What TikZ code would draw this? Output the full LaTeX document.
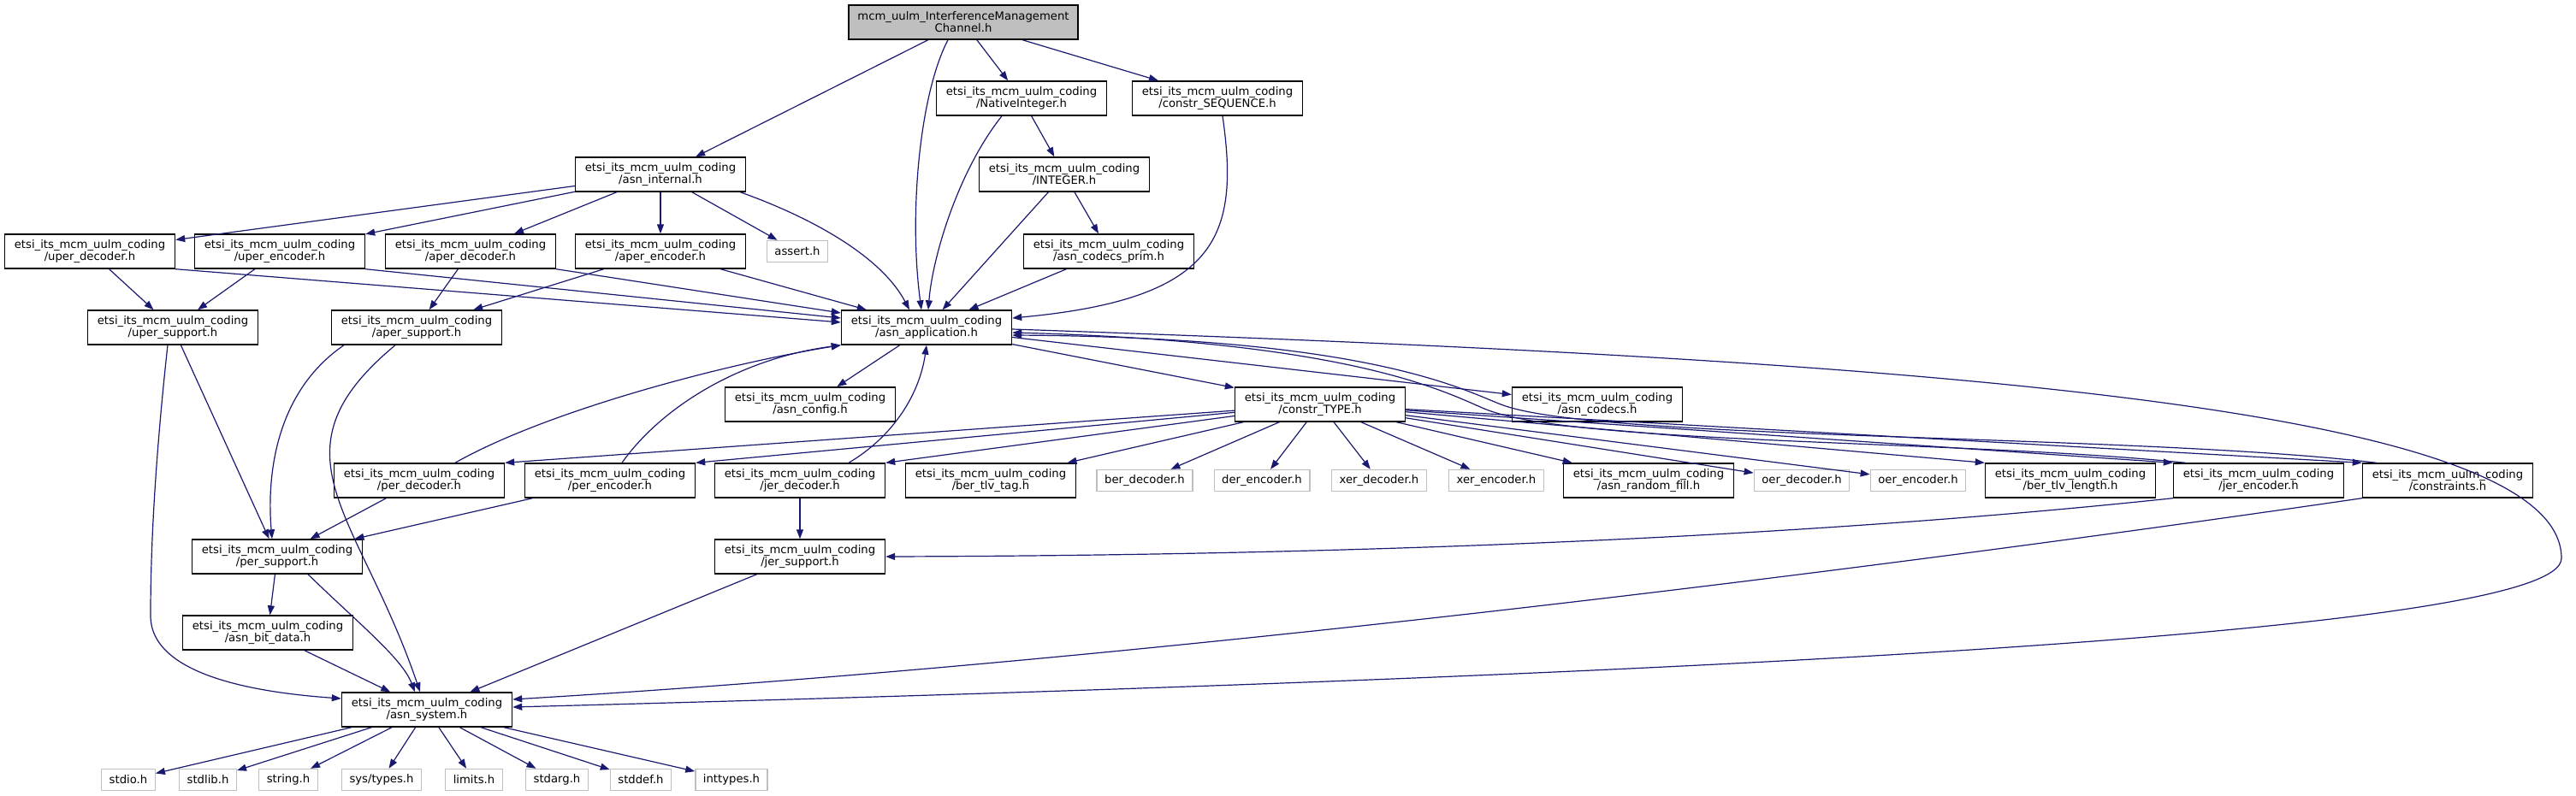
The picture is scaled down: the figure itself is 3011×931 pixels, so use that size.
\documentclass[tikz,border=0pt]{standalone}
\usepackage{fontspec}
\setmainfont{DejaVu Sans}
\usepackage{tikz}
\usepackage{xcolor}
\usetikzlibrary{arrows.meta, positioning}

\definecolor{edgeblue}{RGB}{25,25,112}
\definecolor{extgray}{RGB}{191,191,191}
\newcommand{\mcmdir}{etsi\_its\_mcm\_uulm\_coding}

\begin{document}
\begin{tikzpicture}[x=0.5pt, y=-0.5pt,
  every node/.style={font=\fontsize{6.6pt}{7pt}\selectfont, align=center, inner sep=0pt},
  hdr/.style={draw=black, line width=0.7pt, fill=white, minimum width=99.5pt, minimum height=20pt},
  mainhdr/.style={hdr, fill=extgray, minimum width=134pt},
  syshdr/.style={draw=extgray, line width=0.7pt, fill=white, minimum height=12.5pt, inner xsep=4.5pt},
  dep/.style={draw=edgeblue, line width=0.6pt, -{Triangle[length=5.5pt,width=4pt]}}]
\useasboundingbox (0,0) rectangle (3011,931);

% Top file
\node[mainhdr] (main) at (1126,26) {mcm\_uulm\_InterferenceManagement\\Channel.h};

% Second and third rows
\node[hdr] (nativeint) at (1194,115) {\mcmdir\\/NativeInteger.h};
\node[hdr] (constrseq) at (1423,115) {\mcmdir\\/constr\_SEQUENCE.h};
\node[hdr] (asnint) at (772,204) {\mcmdir\\/asn\_internal.h};
\node[hdr] (integer) at (1244,204) {\mcmdir\\/INTEGER.h};

% Codec headers
\node[hdr] (uperdec) at (105,294) {\mcmdir\\/uper\_decoder.h};
\node[hdr] (uperenc) at (327,294) {\mcmdir\\/uper\_encoder.h};
\node[hdr] (aperdec) at (550,294) {\mcmdir\\/aper\_decoder.h};
\node[hdr] (aperenc) at (772,294) {\mcmdir\\/aper\_encoder.h};
\node[syshdr] (assert) at (932,294) {assert.h};
\node[hdr] (codecsprim) at (1296,294) {\mcmdir\\/asn\_codecs\_prim.h};

\node[hdr] (upersup) at (202,383) {\mcmdir\\/uper\_support.h};
\node[hdr] (apersup) at (487,383) {\mcmdir\\/aper\_support.h};
\node[hdr] (asnapp) at (1083,383) {\mcmdir\\/asn\_application.h};

\node[hdr] (asnconfig) at (947,473) {\mcmdir\\/asn\_config.h};
\node[hdr] (constrtype) at (1543,473) {\mcmdir\\/constr\_TYPE.h};
\node[hdr] (asncodecs) at (1867,473) {\mcmdir\\/asn\_codecs.h};

% Row under constr_TYPE.h
\node[hdr] (perdec) at (490,562) {\mcmdir\\/per\_decoder.h};
\node[hdr] (perenc) at (713,562) {\mcmdir\\/per\_encoder.h};
\node[hdr] (jerdec) at (935,562) {\mcmdir\\/jer\_decoder.h};
\node[hdr] (bertlvtag) at (1158,562) {\mcmdir\\/ber\_tlv\_tag.h};
\node[syshdr] (berdec) at (1338,562) {ber\_decoder.h};
\node[syshdr] (derenc) at (1475,562) {der\_encoder.h};
\node[syshdr] (xerdec) at (1612,562) {xer\_decoder.h};
\node[syshdr] (xerenc) at (1749,562) {xer\_encoder.h};
\node[hdr] (randfill) at (1927,562) {\mcmdir\\/asn\_random\_fill.h};
\node[syshdr] (oerdec) at (2106,562) {oer\_decoder.h};
\node[syshdr] (oerenc) at (2242,562) {oer\_encoder.h};
\node[hdr] (bertlvlen) at (2420,562) {\mcmdir\\/ber\_tlv\_length.h};
\node[hdr] (jerenc) at (2640,562) {\mcmdir\\/jer\_encoder.h};
\node[hdr] (constraints) at (2861,562) {\mcmdir\\/constraints.h};

% Lower part
\node[hdr] (persup) at (324,651) {\mcmdir\\/per\_support.h};
\node[hdr] (jersup) at (935,651) {\mcmdir\\/jer\_support.h};
\node[hdr] (bitdata) at (313,740) {\mcmdir\\/asn\_bit\_data.h};
\node[hdr] (asnsys) at (499,830) {\mcmdir\\/asn\_system.h};

% System headers
\node[syshdr] (stdio) at (150,912) {stdio.h};
\node[syshdr] (stdlib) at (243,912) {stdlib.h};
\node[syshdr] (string) at (337,912) {string.h};
\node[syshdr] (systypes) at (446,912) {sys/types.h};
\node[syshdr] (limits) at (554,912) {limits.h};
\node[syshdr] (stdarg) at (651,912) {stdarg.h};
\node[syshdr] (stddef) at (749,912) {stddef.h};
\node[syshdr] (inttypes) at (855,912) {inttypes.h};

% Top file includes
\draw[dep] (main) -- (asnint);
\draw[dep] ([xshift=-9pt]main.south) .. controls (1075,110) and (1062,250) .. ([xshift=-3pt]asnapp.north);
\draw[dep] (main) -- (nativeint);
\draw[dep] (main) -- (constrseq);

% asn_internal.h
\foreach \f in {uperdec, uperenc, aperdec, aperenc, assert}
  \draw[dep] (asnint) -- (\f);
\draw[dep] ([xshift=-3.5pt]asnint.south east) .. controls (950,255) and (1030,300) .. ([xshift=-10pt]asnapp.north);

% Codec headers into asn_application.h
\draw[dep] (uperdec.south east) -- ([yshift=3pt]asnapp.west);
\draw[dep] (uperenc.south east) -- ([yshift=5.5pt]asnapp.west);
\draw[dep] (aperdec.south east) -- ([yshift=8.5pt]asnapp.west);
\draw[dep] ([xshift=-15pt]aperenc.south east) -- ([xshift=15pt]asnapp.north west);
\draw[dep] (uperdec) -- (upersup);
\draw[dep] (uperenc) -- (upersup);
\draw[dep] (aperdec) -- (apersup);
\draw[dep] (aperenc) -- (apersup);

% NativeInteger.h and INTEGER.h
\draw[dep] (nativeint) -- (integer);
\draw[dep] ([xshift=-11.5pt]nativeint.south) .. controls (1120,200) and (1090,300) .. ([xshift=1pt]asnapp.north);
\draw[dep] (integer) -- (codecsprim);
\draw[dep] (integer) -- (asnapp);
\draw[dep] (codecsprim) -- (asnapp);
\draw[dep] ([xshift=3pt]constrseq.south) .. controls (1450,280) and (1420,350) .. ([yshift=5.5pt]asnapp.east);

% Support headers
\draw[dep] ([xshift=-3pt]upersup.south) .. controls (180,550) and (176,650) .. (176,720)
  .. controls (176,790) and (300,810) .. ([yshift=6.5pt]asnsys.west);
\draw[dep] (upersup) -- (persup);
\draw[dep] ([xshift=-42.5pt]apersup.south) .. controls (320,460) and (312,560) .. ([xshift=-3pt]persup.north);
\draw[dep] ([xshift=-12.5pt]apersup.south) .. controls (310,530) and (420,600) .. ([xshift=-4pt]asnsys.north);

% asn_application.h
\draw[dep] (asnapp) -- (asnconfig);
\draw[dep] (asnapp) -- (constrtype);
\draw[dep] (asnapp) -- (asncodecs);
\coordinate (rbend) at (2994,653);
\draw[dep] ([yshift=-1pt]asnapp.east) .. controls (2200,420) and (2994,470) .. (rbend)
  .. controls (2994,740) and (2000,790) .. ([yshift=1.5pt]asnsys.east);

% constr_TYPE.h
\draw[dep] (constrtype) -- (perdec.north east);
\draw[dep] (constrtype) -- (perenc.north east);
\draw[dep] (constrtype) -- (jerdec.north east);
\foreach \f in {bertlvtag, berdec, derenc, xerdec, xerenc, randfill, oerdec, oerenc}
  \draw[dep] (constrtype) -- (\f);
\foreach \f in {bertlvlen, jerenc, constraints}
  \draw[dep] (constrtype) -- (\f.north west);

% Back into asn_application.h
\draw[dep] ([xshift=21pt]perdec.north) .. controls (640,480) and (850,425) .. (asnapp.south west);
\draw[dep] ([xshift=7pt]perenc.north) .. controls (770,480) and (860,420) .. (asnapp.south west);
\draw[dep] ([xshift=28.5pt]jerdec.north) .. controls (1045,510) and (1075,460) .. (asnapp.south);
\draw[dep] ([xshift=7.5pt]jerenc.north west) .. controls (2300,515) and (1850,520) .. (1740,480)
  .. controls (1700,465) and (1600,400) .. ([yshift=-3pt]asnapp.east);
\draw[dep] ([xshift=8.5pt]constraints.north west) .. controls (2500,508) and (1880,515) .. (1760,475)
  .. controls (1720,462) and (1620,395) .. ([yshift=-4.5pt]asnapp.east);

% Per / jer support
\draw[dep] (perdec) -- (persup);
\draw[dep] (perenc) -- (persup);
\draw[dep] (jerdec) -- (jersup);
\draw[dep] (jerenc.south west) .. controls (2000,640) and (1400,650) .. (jersup.east);
\draw[dep] (constraints.south west) .. controls (2300,650) and (1400,770) .. ([yshift=6pt]asnsys.east);

% Down to asn_system.h
\draw[dep] (persup) -- (bitdata);
\draw[dep] ([xshift=18pt]persup.south) .. controls (420,730) and (470,770) .. ([xshift=-7pt]asnsys.north);
\draw[dep] (bitdata) -- (asnsys);
\draw[dep] (jersup) -- (asnsys);
\foreach \f in {stdio, stdlib, string, systypes, limits, stdarg, stddef, inttypes}
  \draw[dep] (asnsys) -- (\f);
\end{tikzpicture}
\end{document}
